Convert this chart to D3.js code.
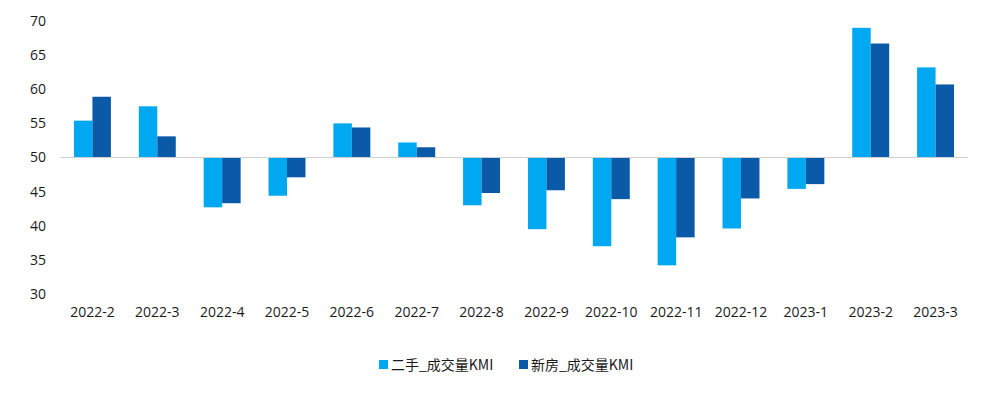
<!DOCTYPE html>
<html>
<head>
<meta charset="utf-8">
<script src="https://cdn.jsdelivr.net/npm/d3@7"></script>
<style>
  body { margin: 0; background: #fff; }
  svg text { font-family: "Open Sans", "Noto Sans CJK SC", sans-serif; fill: #1a1a1a; }
</style>
</head>
<body>
<div id="chart"></div>
<script>
// DATA //
const months = ["2022-2", "2022-3", "2022-4", "2022-5", "2022-6", "2022-7", "2022-8",
    "2022-9", "2022-10", "2022-11", "2022-12", "2023-1", "2023-2", "2023-3"]
const secondHand = [55.4, 57.5, 42.7, 44.4, 55.0, 52.2, 43.0, 39.5, 37.0, 34.2, 39.6, 45.4, 69.0, 63.2]
const newHome = [58.9, 53.1, 43.3, 47.1, 54.4, 51.5, 44.8, 45.2, 43.9, 38.3, 44.0, 46.1, 66.7, 60.7]
const seriesNames = ["二手_成交量KMI", "新房_成交量KMI"]
const yTicks = [30, 35, 40, 45, 50, 55, 60, 65, 70]

const colors = ["#00a8f2", "#0b5aa8"]
const baseline = 50

// Set dimensions
let dimensions = {
    width: 1002,
    height: 400,
    margin: { top: 21, right: 34, bottom: 106, left: 60 },
}
dimensions.boundedWidth = dimensions.width - dimensions.margin.left - dimensions.margin.right
dimensions.boundedHeight = dimensions.height - dimensions.margin.top - dimensions.margin.bottom

const svg = d3.select("#chart")
    .append("svg")
    .attr("width", dimensions.width)
    .attr("height", dimensions.height)

const bounds = svg.append("g")
    .attr("transform", `translate(${dimensions.margin.left},${dimensions.margin.top})`)

// Scales
const xScale = d3.scaleBand()
    .domain(months)
    .range([0, dimensions.boundedWidth])
    .paddingInner(0.43)
    .paddingOuter(0.215)

const subScale = d3.scaleBand()
    .domain([0, 1])
    .range([0, xScale.bandwidth()])

const yScale = d3.scaleLinear()
    .domain([30, 70])
    .range([dimensions.boundedHeight, 0])

// y axis labels (no line)
const yAxis = bounds.append("g")
    .call(d3.axisLeft(yScale).tickValues(yTicks).tickSize(0).tickPadding(14))
yAxis.select(".domain").remove()
yAxis.selectAll("text")
    .style("font-size", "14px")
    .style("font-family", "'Open Sans', sans-serif")

// bars
const rows = months.map((m, i) => ({ month: m, values: [secondHand[i], newHome[i]] }))

const groups = bounds.selectAll(".grp")
    .data(rows)
    .join("g")
    .attr("class", "grp")
    .attr("transform", d => `translate(${xScale(d.month)},0)`)

groups.selectAll("rect")
    .data(d => d.values.map((v, k) => ({ v, k })))
    .join("rect")
    .attr("x", d => subScale(d.k))
    .attr("width", subScale.bandwidth())
    .attr("y", d => yScale(Math.max(d.v, baseline)))
    .attr("height", d => Math.abs(yScale(d.v) - yScale(baseline)))
    .attr("fill", d => colors[d.k])

// baseline at 50
bounds.append("line")
    .attr("x1", 0)
    .attr("x2", dimensions.boundedWidth)
    .attr("y1", yScale(baseline))
    .attr("y2", yScale(baseline))
    .attr("stroke", "#d0d0d0")
    .attr("stroke-width", 1)

// x labels
const xAxis = bounds.append("g")
    .attr("transform", `translate(0,${dimensions.boundedHeight})`)
    .call(d3.axisBottom(xScale).tickSize(0).tickPadding(13))
xAxis.select(".domain").remove()
xAxis.selectAll("text")
    .style("font-size", "14px")
    .style("font-family", "'Open Sans', sans-serif")

// legend
const legend = svg.append("g")
    .attr("transform", "translate(379,365)")

const legendItems = legend.selectAll("g")
    .data(seriesNames)
    .join("g")
    .attr("transform", (d, i) => `translate(${i * 140},0)`)

legendItems.append("rect")
    .attr("x", 0)
    .attr("y", -5)
    .attr("width", 9)
    .attr("height", 9)
    .attr("fill", (d, i) => colors[i])

legendItems.append("text")
    .attr("x", 12)
    .attr("y", 0)
    .attr("dy", "0.35em")
    .style("font-size", "14px")
    .style("font-family", "'Noto Sans CJK SC', sans-serif")
    .text(d => d)
</script>
</body>
</html>
